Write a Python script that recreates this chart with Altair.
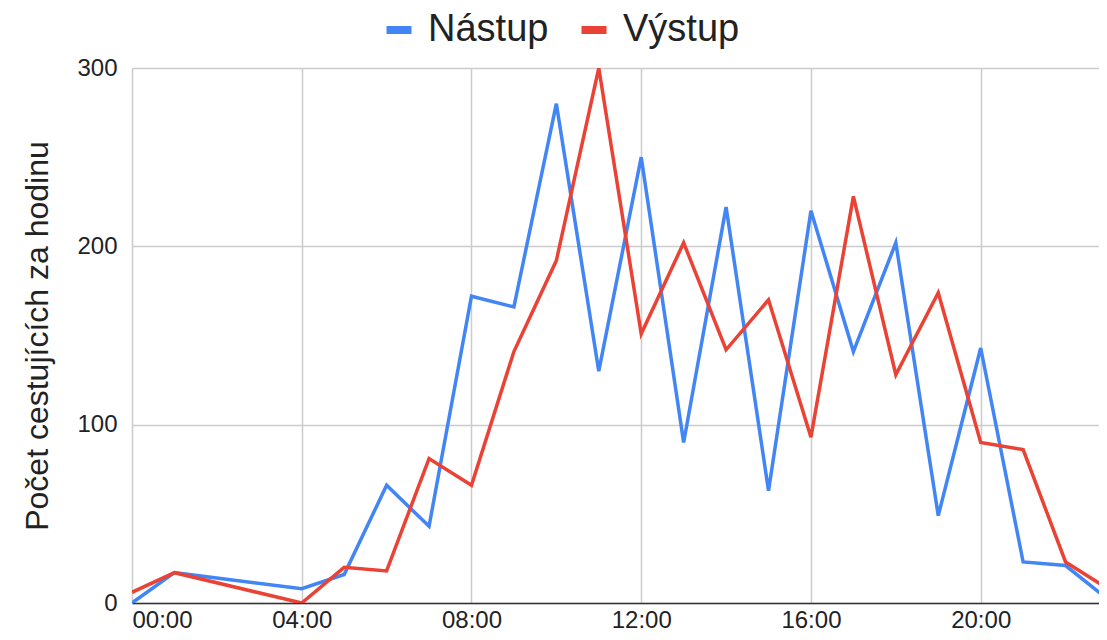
import altair as alt
import pandas as pd

hours = [0, 1, 4, 5, 6, 7, 8, 9, 10, 11, 12, 13, 14, 15, 16, 17, 18, 19, 20, 21, 22, 23]
nastup = [0, 17, 8, 16, 66, 43, 172, 166, 280, 130, 250, 90, 222, 63, 220, 141, 202, 49, 143, 23, 21, 2]
vystup = [6, 17, 0, 20, 18, 81, 66, 141, 192, 300, 151, 202, 142, 170, 93, 228, 128, 174, 90, 86, 23, 8]
series = ["Nástup", "Výstup"]
colors = ["#4285F4", "#EA4335"]
x_ticks = [0, 4, 8, 12, 16, 20]
y_ticks = [0, 100, 200, 300]

rows = []
for h, v in zip(hours, nastup):
    rows.append({"hour": h, "value": v, "series": series[0]})
for h, v in zip(hours, vystup):
    rows.append({"hour": h, "value": v, "series": series[1]})
df = pd.DataFrame(rows)

FONT = "Liberation Sans"

chart = alt.Chart(df).mark_line(strokeWidth=3.5, clip=True).encode(
    x=alt.X("hour:Q",
            scale=alt.Scale(domain=[0, 23], nice=False, zero=False),
            axis=alt.Axis(values=x_ticks, title=None,
                          labelExpr="(datum.value < 10 ? '0' : '') + datum.value + ':00'",
                          labelFont=FONT, labelFontSize=24, labelColor="#222",
                          labelPadding=5, ticks=False,
                          domain=True, domainColor="#333", domainWidth=1.5,
                          grid=True, gridColor="#cccccc", gridWidth=1.5)),
    y=alt.Y("value:Q",
            scale=alt.Scale(domain=[0, 300], nice=False),
            axis=alt.Axis(values=y_ticks, title="Počet cestujících za hodinu",
                          titleFont=FONT, titleFontSize=32, titleFontWeight="normal",
                          titleColor="#222", titlePadding=22,
                          labelFont=FONT, labelFontSize=24, labelColor="#222",
                          labelPadding=15, ticks=False, domain=False,
                          grid=True, gridColor="#cccccc", gridWidth=1.5)),
    color=alt.Color("series:N",
                    scale=alt.Scale(domain=series, range=colors),
                    sort=series,
                    legend=alt.Legend(title=None, orient="none", direction="horizontal",
                                      legendX=248, legendY=-57, padding=0,
                                      labelFont=FONT, labelFontSize=38, labelColor="#222",
                                      symbolType="stroke", symbolSize=625,
                                      symbolStrokeWidth=8,
                                      columnPadding=16, labelOffset=10)),
    order=alt.Order("hour:Q"),
).properties(
    width=976, height=535, padding={"left": 13, "top": 3, "right": -9, "bottom": 0}
).configure_view(stroke=None)

chart.save("out.html", embed_options={"renderer": "svg", "actions": False})
